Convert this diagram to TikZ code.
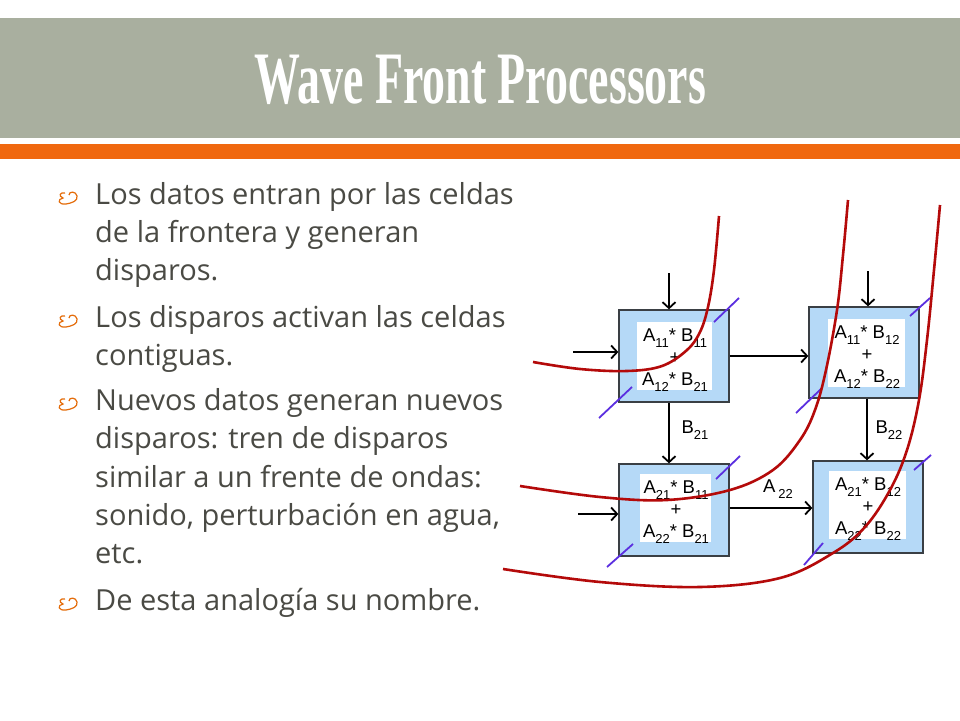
\documentclass[tikz,border=0pt]{standalone}
\usepackage{fontspec}
\setmainfont{Liberation Sans}
\newfontfamily\bodyfont{Open Sans}
\newfontfamily\titlefont[FakeStretch=0.62]{Liberation Serif}
\usetikzlibrary{arrows.meta}
\definecolor{bandgray}{HTML}{A9AF9F}
\definecolor{barorange}{HTML}{F0680F}
\definecolor{bodygray}{HTML}{4A4A44}
\definecolor{bulletorange}{HTML}{E46C0A}
\definecolor{cellblue}{HTML}{B5D9F7}
\definecolor{cellborder}{HTML}{3A3F44}
\definecolor{wavered}{HTML}{B40A0A}
\definecolor{slashblue}{HTML}{5B2FE0}
\newcommand\lsub[1]{\raisebox{-0.3em}{\fontsize{13}{13}\selectfont #1}}
\tikzset{
  bodyline/.style={anchor=base west, inner sep=0pt, font=\bodyfont\fontsize{29}{29}\selectfont, text=bodygray},
  cell/.style={draw=cellborder, line width=1.3pt, fill=cellblue, inner sep=0pt},
  cellin/.style={fill=white, inner sep=0pt},
  celltext/.style={inner sep=0pt, align=center, font=\fontsize{18.5}{22}\selectfont},
  flow/.style={line width=1.8pt, -{Straight Barb[length=6pt,width=13pt,line width=1.8pt]}},
  wave/.style={draw=wavered, line width=2.6pt, smooth, tension=0.6},
  slash/.style={draw=slashblue, line width=1.8pt},
  lbl/.style={inner sep=0pt, font=\fontsize{18.5}{18.5}\selectfont},
  bulletmark/.style={draw=bulletorange, line width=1.2pt}
}
\begin{document}
\begin{tikzpicture}[x=1pt,y=-1pt]
\useasboundingbox (0,0) rectangle (960,720);
\fill[white] (0,0) rectangle (960,720);
% header
\fill[bandgray] (0,18) rectangle (960,138);
\fill[barorange] (0,144) rectangle (960,159);
\node[text=white, inner sep=0pt, anchor=base, font=\titlefont\bfseries\fontsize{74}{74}\selectfont] (title) at (480,103) {Wave Front Processors};

% bullets
\foreach \y/\n in {204/a,327/b,410/c,610/d}{
  \draw[bulletmark] (65,\y-11) .. controls (60,\y-12) and (58,\y-8) .. (63,\y-6)
     .. controls (57,\y-5) and (58,\y+1) .. (66,\y)
     .. controls (72,\y-1) and (78,\y-3) .. (77,\y-8)
     .. controls (76,\y-13) and (69,\y-13) .. (69,\y-9);
}
% body text
\node[bodyline] (l1) at (95,204) {Los datos entran por las celdas};
\node[bodyline] (l2) at (95,242) {de la frontera y generan};
\node[bodyline] (l3) at (95,280) {disparos.};
\node[bodyline] (l4) at (95,327) {Los disparos activan las celdas};
\node[bodyline] (l5) at (95,365) {contiguas.};
\node[bodyline] (l6) at (95,410) {Nuevos datos generan nuevos};
\node[bodyline] (l7) at (95,448) {disparos: tren de disparos};
\node[bodyline] (l8) at (95,487) {similar a un frente de ondas:};
\node[bodyline] (l9) at (95,525) {sonido, perturbación en agua,};
\node[bodyline] (l10) at (95,563) {etc.};
\node[bodyline] (l11) at (95,610) {De esta analogía su nombre.};

% cells
\node[cell, minimum width=110pt, minimum height=92pt] (c1) at (674,356) {};
\node[cellin, minimum width=75pt, minimum height=68pt] (c1i) at (674.5,356) {};
\node[celltext] (c1t) at (675,360) {A\lsub{11}* B\lsub{11}\\+\\A\lsub{12}* B\lsub{21}};
\node[cell, minimum width=110pt, minimum height=91pt] (c2) at (864,352.5) {};
\node[cellin, minimum width=77pt, minimum height=68pt] (c2i) at (866.5,353) {};
\node[celltext] (c2t) at (867,357) {A\lsub{11}* B\lsub{12}\\+\\A\lsub{12}* B\lsub{22}};
\node[cell, minimum width=110pt, minimum height=92pt] (c3) at (674,510) {};
\node[cellin, minimum width=71pt, minimum height=68pt] (c3i) at (675.5,508) {};
\node[celltext] (c3t) at (676,512) {A\lsub{21}* B\lsub{11}\\+\\A\lsub{22}* B\lsub{21}};
\node[cell, minimum width=110pt, minimum height=92pt] (c4) at (868,507) {};
\node[cellin, minimum width=77pt, minimum height=68pt] (c4i) at (867.5,505) {};
\node[celltext] (c4t) at (868,509) {A\lsub{21}* B\lsub{12}\\+\\A\lsub{22}* B\lsub{22}};

% arrows
\coordinate (t1) at (669,273);
\coordinate (t2) at (868,271);
\coordinate (w1) at (573,352);
\coordinate (w3) at (578,514);
\draw[flow] (t1) -- (t1 |- c1.north);
\draw[flow] (t2) -- (t2 |- c2.north);
\draw[flow] (w1) -- (w1 -| c1.west);
\draw[flow] (w3) -- (w3 -| c3.west);
\draw[flow] (c1.east) -- (c1.east -| c2.west);
\draw[flow] (c3.east) ++(0,-2) coordinate (e3) -- (e3 -| c4.west);
\draw[flow] (t1 |- c1.south) -- (t1 |- c3.north);
\draw[flow] (867,0 |- c2.south) coordinate (s2) -- (s2 |- c4.north);
\node[lbl] (lb21) at (695,430) {B\lsub{21}};
\node[lbl] (lb22) at (889,430) {B\lsub{22}};
\node[lbl] (la22) at (778,489) {A\,\lsub{22}};

% slashes
\draw[slash] (714,322) -- (739,298);
\draw[slash] (599,418) -- (632,387);
\draw[slash] (910,316) -- (930,298);
\draw[slash] (796,413) -- (822,388);
\draw[slash] (716,479) -- (740,456);
\draw[slash] (607,567) -- (633,544);
\draw[slash] (914,470) -- (931,455);
\draw[slash] (804,565) -- (823,543);

% wave fronts
\draw[wave] plot coordinates {(533,362) (580,369) (627,371) (662,366) (687,350) (700,332) (708,307) (714,270) (719,216)};
\draw[wave] plot coordinates {(520,486) (600,497) (667,500) (730,490) (773,470) (800,440) (815,410) (826,370) (837,310) (843,255) (848,200)};
\draw[wave] plot coordinates {(503,569) (600,582) (700,587) (780,578) (833,553) (865,527) (890,490) (907,450) (919,400) (927,340) (934,270) (940,205)};
\end{tikzpicture}
\end{document}
